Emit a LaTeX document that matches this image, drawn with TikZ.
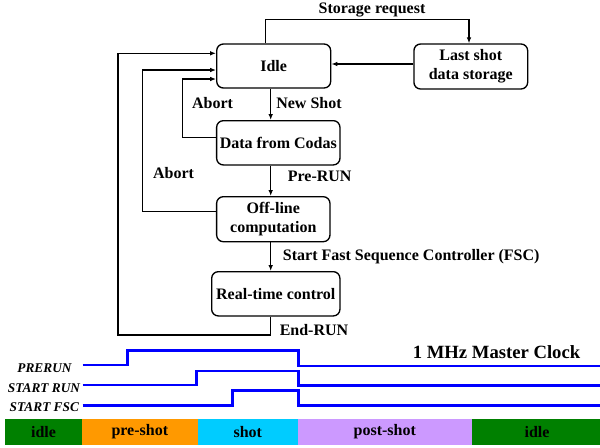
\documentclass[tikz,border=0pt]{standalone}
\usepackage{fontspec}
\setmainfont{Liberation Serif}
\usetikzlibrary{arrows.meta}
\definecolor{sigblue}{HTML}{0000FF}
\definecolor{phgreen}{HTML}{008000}
\definecolor{phorange}{HTML}{FF9900}
\definecolor{phcyan}{HTML}{00CCFF}
\definecolor{phlilac}{HTML}{CC99FF}
\tikzset{
  statebox/.style={draw, line width=1pt, rounded corners=5pt, inner sep=0pt, align=center, font=\fontsize{12}{14.5}\selectfont\bfseries},
  conn/.style={line width=1pt, -{Latex[length=4.5pt,width=3.5pt]}},
  lbl/.style={font=\fontsize{12}{14}\selectfont\bfseries, inner sep=0pt},
  sig/.style={line width=2pt, draw=sigblue},
  siglbl/.style={font=\fontsize{10}{12}\selectfont\bfseries\itshape, inner sep=0pt},
  phase/.style={font=\fontsize{12}{14}\selectfont\bfseries, inner sep=0pt},
}
\begin{document}
\begin{tikzpicture}[x=0.75pt,y=-0.75pt]
\useasboundingbox (0,0) rectangle (600,447);
% state boxes
\node[statebox, minimum width=85.5pt, minimum height=33pt] (idle) at (273.7,66) {Idle};
\node[statebox, minimum width=85.3pt, minimum height=33.75pt] (last) at (470.8,66.5) {Last shot\\data storage};
\node[statebox, minimum width=92.5pt, minimum height=33.2pt] (codas) at (278.3,142.8) {Data from Codas};
\node[statebox, minimum width=85pt, minimum height=33.75pt] (offl) at (273.3,219.2) {Off-line\\computation};
\node[statebox, minimum width=96.2pt, minimum height=33.2pt] (rt) at (275.8,293.8) {Real-time control};
% helper coordinates
\coordinate (vx) at (270.7,0);
\coordinate (sx) at (265.7,0);
\coordinate (stop) at (265.7,19.3);
\coordinate (stopr) at (469,19.3);
\coordinate (a1) at (182.3,137.3);
\coordinate (a1t) at (182.3,79);
\coordinate (a2) at (142.3,211.7);
\coordinate (a2t) at (142.3,70);
\coordinate (eb) at (270.7,335);
\coordinate (el) at (118,335);
\coordinate (elt) at (118,53.3);
% main flow
\draw[conn] (idle.south -| vx) -- (codas.north -| vx);
\draw[conn] (codas.south -| vx) -- (offl.north -| vx);
\draw[conn] (offl.south -| vx) -- (rt.north -| vx);
% storage
\draw[conn] (idle.north -| sx) -- (stop) -- (stopr) -- (last.north -| stopr);
\draw[conn] (last.west |- 0,64) -- (idle.east |- 0,64);
% aborts
\draw[conn] (codas.west |- a1) -- (a1) -- (a1t) -- (idle.west |- a1t);
\draw[conn] (offl.west |- a2) -- (a2) -- (a2t) -- (idle.west |- a2t);
\draw[conn] (rt.south -| eb) -- (eb) -- (el) -- (elt) -- (idle.west |- elt);
% labels
\node[lbl] (lsr) at (372,9.5) {Storage request};
\node[lbl] (lns) at (309,102.7) {New Shot};
\node[lbl] (lab1) at (212.5,102.7) {Abort};
\node[lbl] (lab2) at (173.5,173.3) {Abort};
\node[lbl] (lpr) at (319.7,176) {Pre-RUN};
\node[lbl, anchor=west] (lfsc) at (282.7,256.7) {Start Fast Sequence Controller (FSC)};
\node[lbl] (ler) at (314,330) {End-RUN};
% timing
\node[font=\fontsize{14}{16}\selectfont\bfseries, inner sep=0pt] (clk) at (496.5,351.7) {1 MHz Master Clock};
\node[siglbl] (sp) at (44.5,368) {PRERUN};
\node[siglbl] (ssr) at (44,387.7) {START RUN};
\node[siglbl] (ssf) at (44.3,407) {START FSC};
\draw[sig] (82.7,365) -- (127.7,365) -- (127.7,350.7) -- (298.3,350.7) -- (298.3,366) -- (600,366);
\draw[sig] (82.7,385) -- (196.7,385) -- (196.7,371) -- (298.3,371) -- (298.3,385.5) -- (600,385.5);
\draw[sig] (82.7,405.5) -- (232.3,405.5) -- (232.3,390.5) -- (298.3,390.5) -- (298.3,405.5) -- (600,405.5);
% phases
\fill[phgreen] (5,419) rectangle (82,445);
\fill[phorange] (82,419) rectangle (197.7,445);
\fill[phcyan] (197.7,419) rectangle (298,445);
\fill[phlilac] (298,419) rectangle (471.7,445);
\fill[phgreen] (471.7,419) rectangle (600,445);
\node[phase] (p1) at (43.5,432) {idle};
\node[phase] (p2) at (139.8,432) {pre-shot};
\node[phase] (p3) at (247.8,432) {shot};
\node[phase] (p4) at (384.8,432) {post-shot};
\node[phase] (p5) at (537,432) {idle};
\end{tikzpicture}
\end{document}
